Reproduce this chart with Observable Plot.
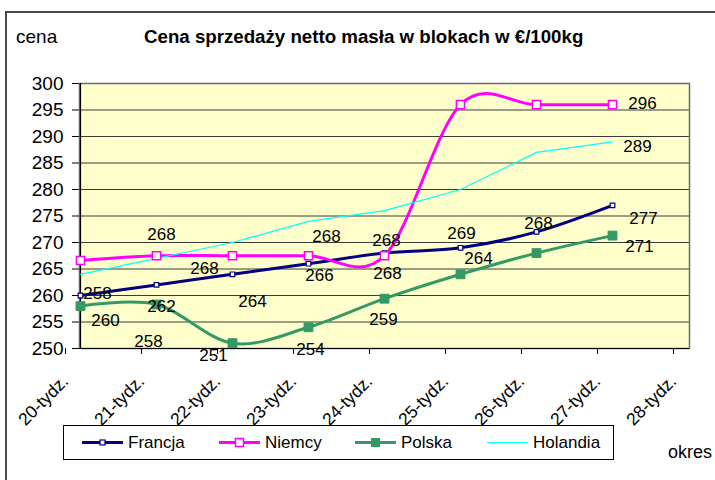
<!DOCTYPE html>
<html>
<head>
<meta charset="utf-8">
<script src="https://cdn.jsdelivr.net/npm/d3@7"></script>
<script src="https://cdn.jsdelivr.net/npm/@observablehq/plot@0.6"></script>
<style>
  body { margin: 0; background: #fff; font-family: "Liberation Sans", Arial, sans-serif; }
  #wrap { position: relative; width: 715px; height: 480px; overflow: hidden; background: #fff; }
  #border { position: absolute; left: 5px; top: 11px; width: 800px; height: 600px;
            border-left: 2px solid #4a4a4a; border-top: 2px solid #4a4a4a; }
  #chart { position: absolute; left: 0; top: 0; }
  .t { position: absolute; white-space: nowrap; color: #000; line-height: 1; }
  #title { left: 144px; top: 28px; font-size: 18.7px; font-weight: bold; }
  #ylab { left: 16px; top: 27px; font-size: 19px; }
  #xlab { left: 668px; top: 443px; font-size: 18px; }
  #legend { position: absolute; left: 63px; top: 425px; }
</style>
</head>
<body>
<div id="wrap">
  <div id="border"></div>
  <div id="chart"></div>
  <div class="t" id="title">Cena sprzedaży netto masła w blokach w €/100kg</div>
  <div class="t" id="ylab">cena</div>
  <div class="t" id="xlab">okres</div>
  <svg id="legend" width="552" height="36"></svg>
</div>
<script>
// ---- data ----
const weeks = ["20-tydz.", "21-tydz.", "22-tydz.", "23-tydz.", "24-tydz.", "25-tydz.", "26-tydz.", "27-tydz.", "28-tydz."];
const seriesNames = ["Francja", "Niemcy", "Polska", "Holandia"];
const francja  = [260, 262, 264, 266, 268, 269, 272, 277];
const niemcy   = [266.6, 267.5, 267.5, 267.5, 267.5, 296, 296, 296];
const polska   = [258, 258.3, 251, 254, 259.4, 264, 268, 271.3];
const holandia = [264, 267, 270, 274, 276, 280, 287, 289];
const yTicks = [250, 255, 260, 265, 270, 275, 280, 285, 290, 295, 300];

// which data points carry a value label (series, week index)
const labelSeries = ["Francja", "Polska", "Niemcy", "Francja", "Polska", "Niemcy", "Francja", "Polska",
                     "Niemcy", "Francja", "Polska", "Francja", "Niemcy", "Polska", "Francja", "Polska",
                     "Polska", "Niemcy", "Holandia", "Francja", "Polska"];
const labelWeek   = [0, 0, 1, 1, 1, 2, 2, 2, 3, 3, 3, 4, 4, 4, 5, 5, 6, 7, 7, 7, 7];
// label placement offsets (pixels), as in the original
const labelDx = [25, 17, 5, 5, -8, -28, 20, -19, 18, 11, 2, 2, 3, -1, 1, 18, 2, 30, 25, 31, 27];
const labelDy = [25, -13, -21, 22, 37, 13, 27, 12, -19, 12, 22, -13, 18, 21, -14, -16, -30, -1, 5, 13, 11];

// ---- styles ----
const colors = {Francja: "#000080", Niemcy: "#FF00FF", Polska: "#339966", Holandia: "#00FFFF"};
const values = {Francja: francja, Niemcy: niemcy, Polska: polska, Holandia: holandia};

const rows = seriesNames.flatMap(s => values[s].map((v, i) => ({series: s, week: weeks[i], value: v})));
const bySeries = s => rows.filter(d => d.series === s);

const labelMarks = labelSeries.map((s, k) => {
  const v = values[s][labelWeek[k]];
  return Plot.text([{week: weeks[labelWeek[k]], value: v, text: String(Math.round(v))}], {
    x: "week", y: "value", text: "text", dx: labelDx[k], dy: labelDy[k],
    fontSize: 17, fill: "#000", textAnchor: "middle"
  });
});

const chart = Plot.plot({
  width: 715,
  height: 480,
  marginLeft: 79,
  marginRight: 26,
  marginTop: 83,
  marginBottom: 132,
  style: {fontFamily: "Liberation Sans, Arial, sans-serif", background: "transparent", overflow: "visible", color: "#000"},
  x: {type: "point", domain: weeks, padding: 0, label: null},
  y: {domain: [250, 300], label: null},
  marks: [
    Plot.frame({fill: "#FFFFCC", stroke: "none"}),
    Plot.gridY(yTicks, {stroke: "#3a3a3a", strokeOpacity: 1, strokeWidth: 1}),
    Plot.frame({stroke: "#6a6a6a", strokeWidth: 1.5}),
    Plot.ruleY([250], {stroke: "#000", strokeWidth: 1.2}),
    Plot.ruleX([weeks[0]], {stroke: "#000", strokeWidth: 1.2}),
    Plot.axisY({ticks: yTicks, tickSize: 7, tickPadding: 9, fontSize: 19, tickFormat: d => String(d), label: null}),
    Plot.axisX({tickSize: 6, tickRotate: -45, tickPadding: 24, dx: -15, fontSize: 17.5, label: null}),
    Plot.line(bySeries("Francja"), {x: "week", y: "value", stroke: colors.Francja, strokeWidth: 3, curve: "cardinal"}),
    Plot.line(bySeries("Niemcy"), {x: "week", y: "value", stroke: colors.Niemcy, strokeWidth: 3, curve: "cardinal"}),
    Plot.line(bySeries("Polska"), {x: "week", y: "value", stroke: colors.Polska, strokeWidth: 3, curve: "cardinal"}),
    Plot.line(bySeries("Holandia"), {x: "week", y: "value", stroke: colors.Holandia, strokeWidth: 1.2, curve: "linear"}),
    Plot.dot(bySeries("Francja"), {x: "week", y: "value", symbol: "square", r: 2.6, stroke: colors.Francja, fill: "#fff", strokeWidth: 1.2}),
    Plot.dot(bySeries("Niemcy"), {x: "week", y: "value", symbol: "square", r: 4.6, stroke: colors.Niemcy, fill: "#FFFFE8", strokeWidth: 1.5}),
    Plot.dot(bySeries("Polska"), {x: "week", y: "value", symbol: "square", r: 5, stroke: colors.Polska, fill: colors.Polska, strokeWidth: 1}),
    ...labelMarks
  ]
});
document.getElementById("chart").appendChild(chart);

// ---- legend ----
const leg = d3.select("#legend");
leg.append("rect").attr("x", 0.5).attr("y", 0.5).attr("width", 550).attr("height", 34)
  .attr("fill", "#fff").attr("stroke", "#000").attr("stroke-width", 1);
const legX = [19, 156, 292, 424];
seriesNames.forEach((s, i) => {
  const g = leg.append("g").attr("transform", `translate(${legX[i]},17.5)`);
  g.append("line").attr("x1", 0).attr("x2", 41).attr("y1", 0).attr("y2", 0)
    .attr("stroke", colors[s]).attr("stroke-width", s === "Holandia" ? 1.2 : 3);
  if (s === "Francja") g.append("rect").attr("x", 18).attr("y", -2.5).attr("width", 5).attr("height", 5)
    .attr("fill", "#fff").attr("stroke", colors[s]).attr("stroke-width", 1.2);
  if (s === "Niemcy") g.append("rect").attr("x", 16.5).attr("y", -4).attr("width", 8).attr("height", 8)
    .attr("fill", "#fff").attr("stroke", colors[s]).attr("stroke-width", 1.5);
  if (s === "Polska") g.append("rect").attr("x", 16).attr("y", -4.5).attr("width", 9).attr("height", 9)
    .attr("fill", colors[s]);
  g.append("text").attr("x", 46).attr("y", 0).attr("dy", "0.35em")
    .attr("font-size", 17).attr("font-family", "Liberation Sans, Arial, sans-serif").attr("fill", "#000").text(s);
});
</script>
</body>
</html>
